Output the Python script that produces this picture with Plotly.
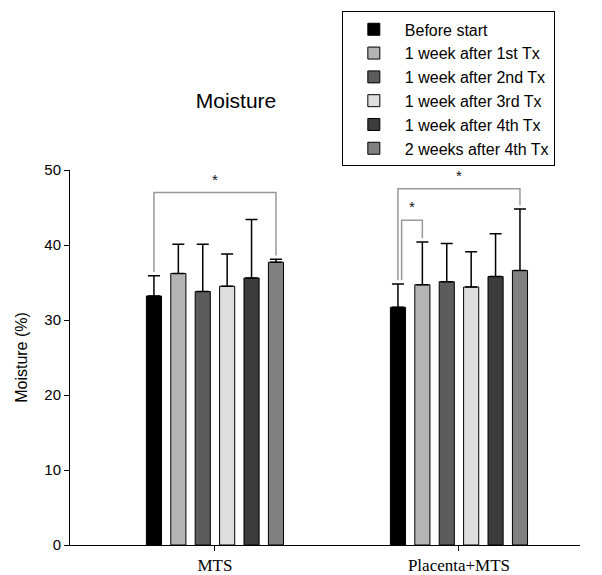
import plotly.graph_objects as go

groups = ["MTS", "Placenta+MTS"]
series = ["Before start", "1 week after 1st Tx", "1 week after 2nd Tx",
          "1 week after 3rd Tx", "1 week after 4th Tx", "2 weeks after 4th Tx"]
colors = ["#000000", "#b4b4b4", "#5c5c5c", "#dedede", "#3c3c3c", "#808080"]
means = [
    [33.2, 31.7],
    [36.2, 34.7],
    [33.8, 35.1],
    [34.5, 34.4],
    [35.6, 35.8],
    [37.7, 36.6],
]
errs = [
    [2.7, 3.1],
    [3.9, 5.7],
    [6.3, 5.1],
    [4.3, 4.7],
    [7.8, 5.7],
    [0.4, 8.2],
]
# significance brackets: (group index, bar a, bar b, bracket level)
brackets = [(0, 0, 5, 47.0), (1, 0, 5, 47.5), (1, 0, 1, 43.3)]
yticks = [0, 10, 20, 30, 40, 50]

n = len(series)
slot = 0.1
bargap = 1 - n * slot

fig = go.Figure()
for i, name in enumerate(series):
    fig.add_trace(go.Bar(
        name=name, x=[0, 1], y=means[i],
        marker=dict(color=colors[i], line=dict(color="#000000", width=1)),
        error_y=dict(type="data", symmetric=False, array=errs[i],
                     arrayminus=[0, 0], color="#000000", thickness=1.5, width=6),
    ))

def bar_x(g, i):
    return g + (i - (n - 1) / 2) * slot

shapes = []
annotations = []
for k, (g, a, b, lvl) in enumerate(brackets):
    inner = (b - a) < n - 1
    xa = bar_x(g, a) + (0.015 if inner else 0)
    xb = bar_x(g, b)
    ya = means[a][g] + errs[a][g] + 0.5
    yb = means[b][g] + errs[b][g] + 0.5
    shapes.append(dict(type="path", xref="x", yref="y",
                       path=f"M {xa},{ya} L {xa},{lvl} L {xb},{lvl} L {xb},{yb}",
                       line=dict(color="#999999", width=1.5)))
    annotations.append(dict(x=(xa + xb) / 2, y=lvl + 0.4, xref="x", yref="y",
                            text="*", showarrow=False, yanchor="bottom",
                            font=dict(size=15, color="#111111")))

fig.update_layout(
    width=602, height=575,
    margin=dict(l=70, r=22, t=166, b=30),
    paper_bgcolor="white", plot_bgcolor="white",
    barmode="group", bargap=bargap, bargroupgap=0.38,
    font=dict(family="Liberation Sans, Arial", color="#000000"),
    title=dict(text="Moisture", x=236 / 602, xanchor="center", y=1 - 101 / 575,
               yanchor="middle", font=dict(size=21, family="Liberation Sans, Arial")),
    showlegend=True,
    legend=dict(x=0.533, y=1.423, xanchor="left", yanchor="top",
                bgcolor="white", bordercolor="#000000", borderwidth=1,
                font=dict(size=16, family="Liberation Sans, Arial"),
                itemwidth=52, traceorder="normal"),
    shapes=shapes,
    annotations=annotations,
    xaxis=dict(tickmode="array", tickvals=[0, 1], ticktext=groups,
               range=[-0.594, 1.496], showline=True, linecolor="#000000", linewidth=1,
               ticks="outside", ticklen=5, tickcolor="#000000", showgrid=False,
               zeroline=False, automargin=False,
               tickfont=dict(family="Liberation Serif, DejaVu Serif", size=17)),
    yaxis=dict(range=[0, 50], tickvals=yticks, showline=True, linecolor="#000000",
               linewidth=1, ticks="outside", ticklen=5, tickcolor="#000000",
               showgrid=False, zeroline=False, automargin=False,
               title=dict(text="Moisture (%)", font=dict(size=16), standoff=12),
               tickfont=dict(size=15)),
)

fig.write_html("out.html")
